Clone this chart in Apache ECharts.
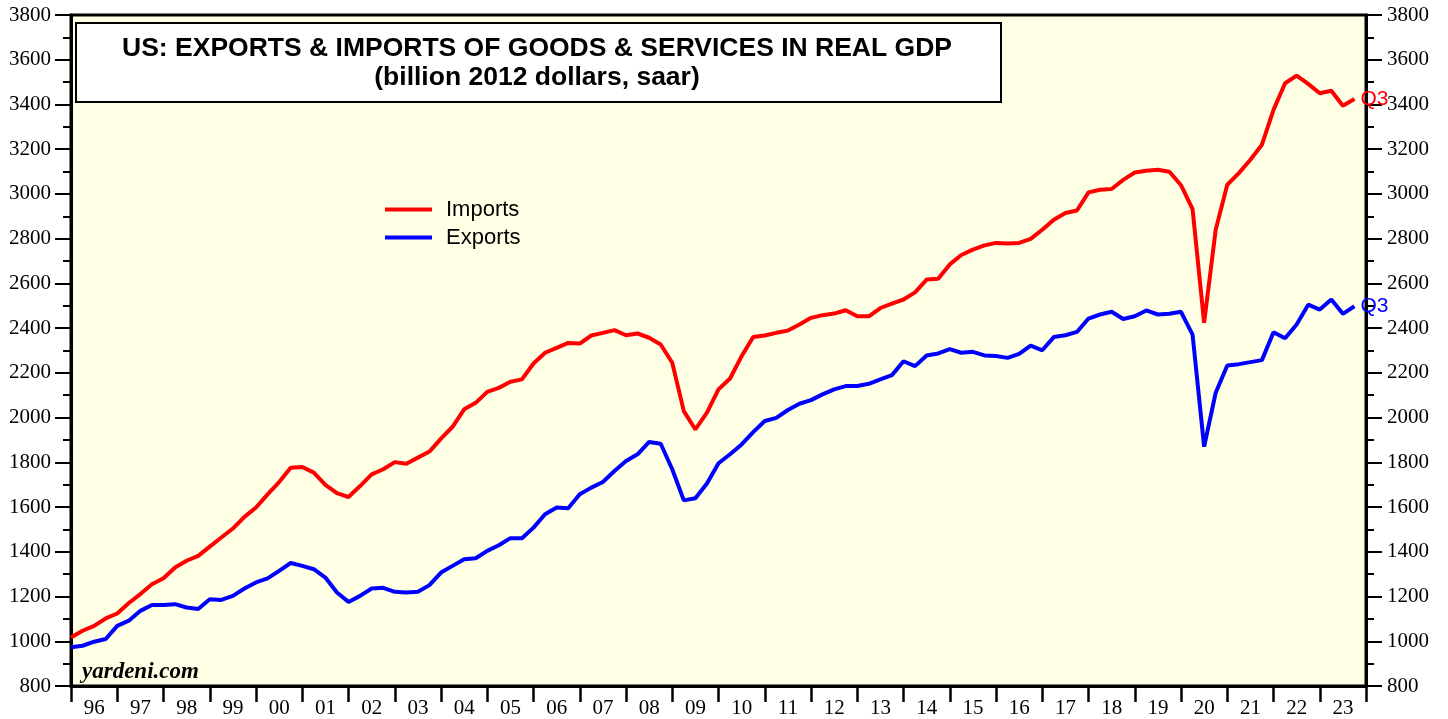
<!DOCTYPE html>
<html>
<head>
<meta charset="utf-8">
<script src="https://cdn.jsdelivr.net/npm/echarts@6/dist/echarts.min.js"></script>
<style>
html,body{margin:0;padding:0;background:#fff;}
#chart{width:1448px;height:719px;}
</style>
</head>
<body>
<div id="chart"></div>
<script>
// Quarterly data, end-of-quarter, first value = 1995Q4 (plotted at 1996.0), last = 2023Q3
const firstYear = 1995;
const firstQuarter = 4;
const yearLabels = ['96','97','98','99','00','01','02','03','04','05','06','07','08','09','10','11','12','13','14','15','16','17','18','19','20','21','22','23'];
const imports = [
  1017,1047,1069,1102,1124,1171,1211,1255,1282,1330,1360,1382,1423,1464,1504,1556,
  1598,1657,1712,1776,1779,1754,1699,1662,1645,1694,1746,1769,1801,1794,1821,1848,
  1906,1959,2037,2066,2115,2133,2160,2171,2242,2290,2312,2334,2331,2367,2379,2391,
  2368,2376,2357,2327,2245,2029,1947,2022,2126,2175,2275,2360,2367,2379,2389,2416,
  2446,2458,2465,2480,2453,2453,2490,2510,2528,2560,2617,2621,2685,2727,2751,2770,
  2781,2778,2781,2799,2840,2885,2915,2926,3007,3019,3022,3063,3096,3104,3108,3099,
  3039,2932,2424,2840,3041,3093,3153,3220,3376,3495,3529,3492,3450,3461,3394,3424
];
const exports_ = [
  973,980,998,1010,1069,1092,1136,1162,1162,1166,1151,1144,1188,1185,1203,1236,
  1263,1281,1315,1350,1337,1322,1285,1218,1176,1203,1236,1239,1221,1218,1221,1251,
  1307,1337,1367,1371,1404,1429,1461,1461,1508,1568,1598,1595,1657,1687,1712,1761,
  1806,1836,1891,1883,1769,1630,1639,1705,1796,1836,1880,1935,1985,1999,2034,2062,
  2078,2104,2126,2141,2141,2151,2171,2190,2252,2230,2278,2287,2306,2290,2294,2278,
  2275,2267,2285,2322,2301,2360,2368,2383,2443,2461,2473,2441,2453,2479,2461,2464,
  2473,2371,1870,2111,2233,2239,2248,2257,2382,2355,2416,2505,2483,2528,2464,2498
];
const lastLabel = 'Q3';

// end-of-quarter position in decimal years
function qpos(i){ return firstYear + (firstQuarter + i) / 4; }
const impData = imports.map((v,i)=>[qpos(i), v]);
const expData = exports_.map((v,i)=>[qpos(i), v]);

const serif = 'Liberation Serif';
const sans = 'Liberation Sans';
const plain = v => String(v);
const chart = echarts.init(document.getElementById('chart'));
chart.setOption({
  animation: false,
  backgroundColor: '#ffffff',
  grid: {left: 71, right: 82, top: 15, bottom: 32, show: true, backgroundColor: '#FFFFE6', borderColor: '#000', borderWidth: 3},
  legend: {
    orient: 'vertical', left: 380, top: 193, itemWidth: 47, itemHeight: 4, itemGap: 5, icon: 'rect',
    textStyle: {fontFamily: sans, fontSize: 22, color: '#000', padding: [0,0,0,9], lineHeight: 23},
    data: ['Imports','Exports']
  },
  xAxis: [
    {type: 'value', min: 1996, max: 2024, interval: 1, position: 'bottom',
     axisLine: {show: true, lineStyle: {color: '#000', width: 3}},
     axisTick: {show: true, length: 16, lineStyle: {color: '#000', width: 2.5}},
     axisLabel: {show: false}, splitLine: {show: false}},
    {type: 'category', data: yearLabels, boundaryGap: true, position: 'bottom',
     axisLine: {show: false}, axisTick: {show: false},
     axisLabel: {show: true, interval: 0, margin: 12, fontFamily: serif, fontSize: 21, color: '#000'},
     splitLine: {show: false}}
  ],
  yAxis: [
    {type: 'value', min: 800, max: 3800, interval: 200, position: 'left',
     axisLine: {show: true, lineStyle: {color: '#000', width: 3}},
     axisTick: {show: true, length: 16, lineStyle: {color: '#000', width: 2}},
     minorTick: {show: true, splitNumber: 2, length: 8, lineStyle: {color: '#000', width: 2}},
     axisLabel: {margin: 20, fontFamily: serif, fontSize: 21, color: '#000', formatter: plain},
     splitLine: {show: false}},
    {type: 'value', min: 800, max: 3800, interval: 200, position: 'right',
     axisLine: {show: true, lineStyle: {color: '#000', width: 3}},
     axisTick: {show: true, length: 16, lineStyle: {color: '#000', width: 2}},
     minorTick: {show: true, splitNumber: 2, length: 8, lineStyle: {color: '#000', width: 2}},
     axisLabel: {margin: 21, fontFamily: serif, fontSize: 21, color: '#000', formatter: plain},
     splitLine: {show: false}}
  ],
  series: [
    {name: 'Imports', type: 'line', xAxisIndex: 0, yAxisIndex: 0, data: impData, showSymbol: false, symbol: 'none',
     lineStyle: {color: '#FF0000', width: 4}, itemStyle: {color: '#FF0000'},
     endLabel: {show: true, formatter: lastLabel, color: '#FF0000', fontFamily: sans, fontSize: 21, distance: 6}},
    {name: 'Exports', type: 'line', xAxisIndex: 0, yAxisIndex: 0, data: expData, showSymbol: false, symbol: 'none',
     lineStyle: {color: '#0000FF', width: 4}, itemStyle: {color: '#0000FF'},
     endLabel: {show: true, formatter: lastLabel, color: '#0000FF', fontFamily: sans, fontSize: 21, distance: 6}}
  ],
  graphic: [
    {type: 'rect', left: 75, top: 22, z: 10,
     shape: {width: 925, height: 79}, style: {fill: '#fff', stroke: '#000', lineWidth: 2}},
    {type: 'text', z: 11,
     style: {x: 537, y: 49, text: 'US: EXPORTS & IMPORTS OF GOODS & SERVICES IN REAL GDP', textAlign: 'center', textVerticalAlign: 'middle',
             fontFamily: sans, fontWeight: 'bold', fontSize: 26.5, fill: '#000'}},
    {type: 'text', z: 11,
     style: {x: 537, y: 78, text: '(billion 2012 dollars, saar)', textAlign: 'center', textVerticalAlign: 'middle',
             fontFamily: sans, fontWeight: 'bold', fontSize: 26.5, fill: '#000'}},
    {type: 'text', z: 11,
     style: {x: 82, y: 672, text: 'yardeni.com', textVerticalAlign: 'middle',
             fontFamily: serif, fontWeight: 'bold', fontStyle: 'italic', fontSize: 23, fill: '#000'}}
  ]
});
</script>
</body>
</html>
